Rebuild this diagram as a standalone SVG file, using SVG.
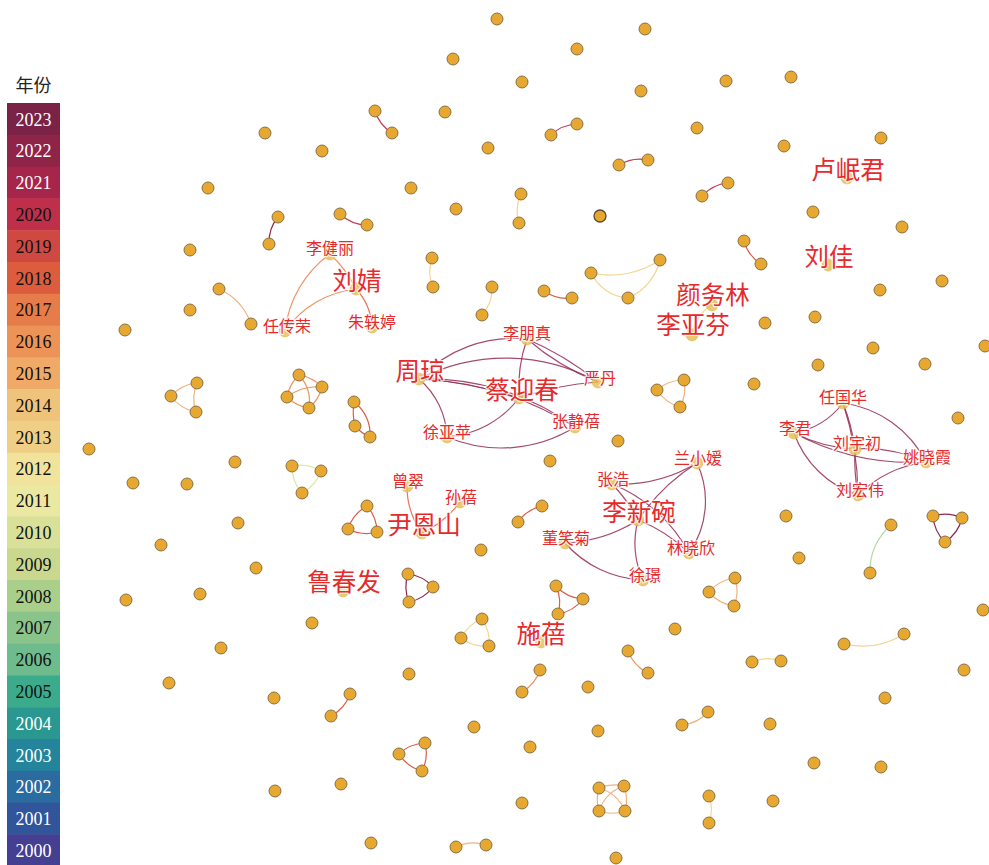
<svg xmlns="http://www.w3.org/2000/svg" width="989" height="865" viewBox="0 0 989 865">
<style>
.n{fill:#E6A830;stroke:#7d6640;stroke-width:0.9}
.ln{fill:#E8C056;fill-opacity:0.85;stroke:#d9b050;stroke-width:0.5}
.e{fill:none;stroke-width:1.2}
.c23{stroke:#8b2a50}
.c22{stroke:#952c55;stroke-opacity:0.85}
.c21{stroke:#c23a55}
.c19{stroke:#db5e4c}
.c18{stroke:#e8775c}
.c17{stroke:#ec9462}
.c16{stroke:#f2b27e}
.c14{stroke:#f3d594}
.c10{stroke:#dbe6ab}
.c08{stroke:#b4d9a2}
.lb{font-family:"Noto Sans CJK SC","Noto Sans",sans-serif;fill:#e62a2c;stroke:#fff;stroke-width:2.5;stroke-opacity:0.8;paint-order:stroke;text-anchor:middle}
.big{font-size:24.5px}
.sm{font-size:16px}
.lg{font-family:"Liberation Serif",serif;font-size:18px;text-anchor:middle}
</style>
<g id="legend">
<text x="33.5" y="92" style="font-family:'Noto Sans CJK SC',sans-serif;font-size:18px;text-anchor:middle" fill="#222">年份</text>
<rect x="7" y="103" width="53" height="32.3" fill="#7a2346"/>
<rect x="7" y="134.8" width="53" height="32.3" fill="#8f2449"/>
<rect x="7" y="166.6" width="53" height="32.3" fill="#a6254b"/>
<rect x="7" y="198.4" width="53" height="32.3" fill="#c02f4a"/>
<rect x="7" y="230.2" width="53" height="32.3" fill="#d04842"/>
<rect x="7" y="262" width="53" height="32.3" fill="#dd5c3e"/>
<rect x="7" y="293.8" width="53" height="32.3" fill="#e67c49"/>
<rect x="7" y="325.6" width="53" height="32.3" fill="#ec9457"/>
<rect x="7" y="357.4" width="53" height="32.3" fill="#eeaa66"/>
<rect x="7" y="389.2" width="53" height="32.3" fill="#eec47c"/>
<rect x="7" y="421" width="53" height="32.3" fill="#efcf86"/>
<rect x="7" y="452.8" width="53" height="32.3" fill="#f1e29c"/>
<rect x="7" y="484.6" width="53" height="32.3" fill="#ebe8a2"/>
<rect x="7" y="516.4" width="53" height="32.3" fill="#d9e098"/>
<rect x="7" y="548.2" width="53" height="32.3" fill="#c9d88e"/>
<rect x="7" y="580" width="53" height="32.3" fill="#a9cf8b"/>
<rect x="7" y="611.8" width="53" height="32.3" fill="#8bc48b"/>
<rect x="7" y="643.6" width="53" height="32.3" fill="#6ebb8d"/>
<rect x="7" y="675.4" width="53" height="32.3" fill="#3bab8c"/>
<rect x="7" y="707.2" width="53" height="32.3" fill="#2a9891"/>
<rect x="7" y="739" width="53" height="32.3" fill="#24849b"/>
<rect x="7" y="770.8" width="53" height="32.3" fill="#2a6ba0"/>
<rect x="7" y="802.6" width="53" height="32.3" fill="#31559a"/>
<rect x="7" y="834.4" width="53" height="31" fill="#443f90"/>
<text class="lg" x="33.5" y="125.5" fill="#fff">2023</text>
<text class="lg" x="33.5" y="157.3" fill="#fff">2022</text>
<text class="lg" x="33.5" y="189.1" fill="#fff">2021</text>
<text class="lg" x="33.5" y="220.9" fill="#111">2020</text>
<text class="lg" x="33.5" y="252.7" fill="#111">2019</text>
<text class="lg" x="33.5" y="284.5" fill="#111">2018</text>
<text class="lg" x="33.5" y="316.3" fill="#111">2017</text>
<text class="lg" x="33.5" y="348.1" fill="#111">2016</text>
<text class="lg" x="33.5" y="379.9" fill="#111">2015</text>
<text class="lg" x="33.5" y="411.7" fill="#111">2014</text>
<text class="lg" x="33.5" y="443.5" fill="#111">2013</text>
<text class="lg" x="33.5" y="475.3" fill="#111">2012</text>
<text class="lg" x="33.5" y="507.1" fill="#111">2011</text>
<text class="lg" x="33.5" y="538.9" fill="#111">2010</text>
<text class="lg" x="33.5" y="570.7" fill="#111">2009</text>
<text class="lg" x="33.5" y="602.5" fill="#111">2008</text>
<text class="lg" x="33.5" y="634.3" fill="#111">2007</text>
<text class="lg" x="33.5" y="666.1" fill="#111">2006</text>
<text class="lg" x="33.5" y="697.9" fill="#111">2005</text>
<text class="lg" x="33.5" y="729.7" fill="#fff">2004</text>
<text class="lg" x="33.5" y="761.5" fill="#fff">2003</text>
<text class="lg" x="33.5" y="793.3" fill="#fff">2002</text>
<text class="lg" x="33.5" y="825.1" fill="#fff">2001</text>
<text class="lg" x="33.5" y="856.9" fill="#fff">2000</text>
</g>
<g id="connectors">
<path class="e c22" d="M419,379 A130,130 0 0 1 527,339"/>
<path class="e c22" d="M419,379 A190,190 0 0 1 598,382"/>
<path class="e c22" d="M419,379 A400,400 0 0 1 519,398"/>
<path class="e c22" d="M419,379 A250,250 0 0 1 575,427"/>
<path class="e c22" d="M419,379 A320,320 0 0 1 575,427"/>
<path class="e c22" d="M419,379 A80,80 0 0 1 447,437"/>
<path class="e c22" d="M527,339 A150,150 0 0 0 519,398"/>
<path class="e c22" d="M527,339 A250,250 0 0 0 598,382"/>
<path class="e c22" d="M527,339 A300,300 0 0 1 598,382"/>
<path class="e c22" d="M519,398 A300,300 0 0 1 598,382"/>
<path class="e c22" d="M519,398 A100,100 0 0 1 447,437"/>
<path class="e c22" d="M447,437 A140,140 0 0 0 575,427"/>
<path class="e c22" d="M794,433 A80,80 0 0 0 843,403"/>
<path class="e c22" d="M843,403 A200,200 0 0 1 855,449"/>
<path class="e c22" d="M843,403 A300,300 0 0 1 858,495"/>
<path class="e c22" d="M843,403 A110,110 0 0 1 926,462"/>
<path class="e c22" d="M794,433 A150,150 0 0 0 855,449"/>
<path class="e c22" d="M794,433 A250,250 0 0 0 926,462"/>
<path class="e c22" d="M794,433 A100,100 0 0 0 858,495"/>
<path class="e c22" d="M855,449 A150,150 0 0 1 926,462"/>
<path class="e c22" d="M855,449 A200,200 0 0 0 858,495"/>
<path class="e c22" d="M926,462 A120,120 0 0 0 858,495"/>
<path class="e c22" d="M612,484 A150,150 0 0 0 697,463"/>
<path class="e c22" d="M612,484 A150,150 0 0 1 638,520"/>
<path class="e c22" d="M612,484 A150,150 0 0 1 689,553"/>
<path class="e c22" d="M697,463 A200,200 0 0 0 638,520"/>
<path class="e c22" d="M697,463 A90,90 0 0 1 689,553"/>
<path class="e c22" d="M638,520 A150,150 0 0 1 565,543"/>
<path class="e c22" d="M638,520 A90,90 0 0 0 643,580"/>
<path class="e c22" d="M638,520 A150,150 0 0 1 689,553"/>
<path class="e c22" d="M565,543 A110,110 0 0 0 643,580"/>
<path class="e c17" d="M330,254 A110,110 0 0 0 285,331"/>
<path class="e c17" d="M285,331 A100,100 0 0 1 356,289"/>
<path class="e c17" d="M330,254 A120,120 0 0 1 356,289"/>
<path class="e c18" d="M356,289 A60,60 0 0 1 372,327"/>
<path class="e c16" d="M219,289 A60,60 0 0 1 251,324"/>
<path class="e c18" d="M407,486 A80,80 0 0 0 422,533"/>
<path class="e c18" d="M460,502 A100,100 0 0 1 422,533"/>
<path class="e c21" d="M375,111 A40,40 0 0 0 392,133"/>
<path class="e c21" d="M551,135 A40,40 0 0 1 577,124"/>
<path class="e c21" d="M619,165 A40,40 0 0 1 648,160"/>
<path class="e c21" d="M702,196 A40,40 0 0 1 728,183"/>
<path class="e c21" d="M340,214 A40,40 0 0 0 367,225"/>
<path class="e c23" d="M278,217 A40,40 0 0 0 269,244"/>
<path class="e c23" d="M933,516 A40,40 0 0 1 962,518"/>
<path class="e c23" d="M962,518 A40,40 0 0 1 945,542"/>
<path class="e c23" d="M933,516 A40,40 0 0 0 945,542"/>
<path class="e c23" d="M408,574 A40,40 0 0 1 433,587"/>
<path class="e c23" d="M433,587 A40,40 0 0 1 409,602"/>
<path class="e c23" d="M408,574 A40,40 0 0 0 409,602"/>
<path class="e c19" d="M544,291 A40,40 0 0 0 572,298"/>
<path class="e c19" d="M744,241 A40,40 0 0 0 761,264"/>
<path class="e c19" d="M367,506 A40,40 0 0 0 348,529"/>
<path class="e c19" d="M367,506 A40,40 0 0 1 377,532"/>
<path class="e c19" d="M348,529 A40,40 0 0 0 377,532"/>
<path class="e c19" d="M354,402 A40,40 0 0 1 370,437"/>
<path class="e c19" d="M354,402 A60,60 0 0 0 355,426"/>
<path class="e c19" d="M355,426 A40,40 0 0 0 370,437"/>
<path class="e c19" d="M542,506 A40,40 0 0 0 518,522"/>
<path class="e c19" d="M556,586 A40,40 0 0 0 583,599"/>
<path class="e c19" d="M583,599 A40,40 0 0 1 558,614"/>
<path class="e c19" d="M556,586 A40,40 0 0 1 558,614"/>
<path class="e c19" d="M350,694 A40,40 0 0 1 331,716"/>
<path class="e c19" d="M425,743 A40,40 0 0 0 399,754"/>
<path class="e c19" d="M399,754 A40,40 0 0 0 422,771"/>
<path class="e c19" d="M425,743 A40,40 0 0 1 422,771"/>
<path class="e c17" d="M299,375 A40,40 0 0 1 322,387"/>
<path class="e c17" d="M299,375 A40,40 0 0 0 287,397"/>
<path class="e c17" d="M299,375 A40,40 0 0 1 309,408"/>
<path class="e c17" d="M322,387 A50,50 0 0 0 287,397"/>
<path class="e c17" d="M322,387 A40,40 0 0 1 309,408"/>
<path class="e c17" d="M287,397 A40,40 0 0 0 309,408"/>
<path class="e c17" d="M522,692 A40,40 0 0 0 540,670"/>
<path class="e c17" d="M628,651 A40,40 0 0 0 648,673"/>
<path class="e c16" d="M197,383 A40,40 0 0 0 171,396"/>
<path class="e c16" d="M171,396 A40,40 0 0 0 196,412"/>
<path class="e c16" d="M197,383 A40,40 0 0 0 196,412"/>
<path class="e c16" d="M657,390 A40,40 0 0 1 684,380"/>
<path class="e c16" d="M684,380 A40,40 0 0 1 680,407"/>
<path class="e c16" d="M657,390 A40,40 0 0 0 680,407"/>
<path class="e c16" d="M735,578 A40,40 0 0 0 709,592"/>
<path class="e c16" d="M709,592 A40,40 0 0 0 734,606"/>
<path class="e c16" d="M735,578 A40,40 0 0 1 734,606"/>
<path class="e c16" d="M599,788 A40,40 0 0 1 624,786"/>
<path class="e c16" d="M599,788 A40,40 0 0 0 599,811"/>
<path class="e c16" d="M599,788 A40,40 0 0 1 625,811"/>
<path class="e c16" d="M624,786 A40,40 0 0 0 599,811"/>
<path class="e c16" d="M624,786 A40,40 0 0 1 625,811"/>
<path class="e c16" d="M599,811 A40,40 0 0 0 625,811"/>
<path class="e c16" d="M708,712 A40,40 0 0 1 682,725"/>
<path class="e c16" d="M456,847 A40,40 0 0 1 486,845"/>
<path class="e c14" d="M591,273 A90,90 0 0 0 660,260"/>
<path class="e c14" d="M591,273 A45,45 0 0 0 628,298"/>
<path class="e c14" d="M628,298 A55,55 0 0 0 660,260"/>
<path class="e c14" d="M482,619 A40,40 0 0 0 461,638"/>
<path class="e c14" d="M461,638 A40,40 0 0 0 489,646"/>
<path class="e c14" d="M482,619 A40,40 0 0 1 489,646"/>
<path class="e c14" d="M844,644 A80,80 0 0 0 904,634"/>
<path class="e c14" d="M752,662 A40,40 0 0 1 781,661"/>
<path class="e c14" d="M521,194 A40,40 0 0 0 519,223"/>
<path class="e c14" d="M492,287 A40,40 0 0 1 482,315"/>
<path class="e c14" d="M432,258 A40,40 0 0 0 433,287"/>
<path class="e c14" d="M709,796 A40,40 0 0 1 709,823"/>
<path class="e c14" d="M692,335 A40,40 0 0 1 712,305"/>
<path class="e c10" d="M292,466 A40,40 0 0 1 321,471"/>
<path class="e c10" d="M321,471 A40,40 0 0 1 302,493"/>
<path class="e c10" d="M292,466 A40,40 0 0 0 302,493"/>
<path class="e c08" d="M891,525 A60,60 0 0 0 870,573"/>
</g>
<g id="nodes">
<g id="n1"><circle class="n" cx="497" cy="19" r="6"/></g>
<g id="n2"><circle class="n" cx="645" cy="29" r="6"/></g>
<g id="n3"><circle class="n" cx="577" cy="49" r="6"/></g>
<g id="n4"><circle class="n" cx="453" cy="59" r="6"/></g>
<g id="n5"><circle class="n" cx="522" cy="82" r="6"/></g>
<g id="n6"><circle class="n" cx="641" cy="91" r="6"/></g>
<g id="n7"><circle class="n" cx="726" cy="81" r="6"/></g>
<g id="n8"><circle class="n" cx="791" cy="77" r="6"/></g>
<g id="n9"><circle class="n" cx="375" cy="111" r="6"/></g>
<g id="n10"><circle class="n" cx="445" cy="112" r="6"/></g>
<g id="n11"><circle class="n" cx="392" cy="133" r="6"/></g>
<g id="n12"><circle class="n" cx="551" cy="135" r="6"/></g>
<g id="n13"><circle class="n" cx="577" cy="124" r="6"/></g>
<g id="n14"><circle class="n" cx="265" cy="133" r="6"/></g>
<g id="n15"><circle class="n" cx="322" cy="151" r="6"/></g>
<g id="n16"><circle class="n" cx="488" cy="148" r="6"/></g>
<g id="n17"><circle class="n" cx="697" cy="128" r="6"/></g>
<g id="n18"><circle class="n" cx="784" cy="146" r="6"/></g>
<g id="n19"><circle class="n" cx="881" cy="138" r="6"/></g>
<g id="n20"><circle class="n" cx="619" cy="165" r="6"/></g>
<g id="n21"><circle class="n" cx="648" cy="160" r="6"/></g>
<g id="n22"><circle class="n" cx="208" cy="188" r="6"/></g>
<g id="n23"><circle class="n" cx="411" cy="188" r="6"/></g>
<g id="n24"><circle class="n" cx="521" cy="194" r="6"/></g>
<g id="n25"><circle class="n" cx="456" cy="209" r="6"/></g>
<g id="n26"><circle class="n" cx="519" cy="223" r="6"/></g>
<g id="n27"><circle class="n" cx="600" cy="216" r="6" style="stroke:#5a4a30;stroke-width:1.3"/></g>
<g id="n28"><circle class="n" cx="702" cy="196" r="6"/></g>
<g id="n29"><circle class="n" cx="728" cy="183" r="6"/></g>
<g id="n30"><circle class="n" cx="813" cy="212" r="6"/></g>
<g id="n31"><circle class="n" cx="902" cy="227" r="6"/></g>
<g id="n32"><circle class="n" cx="278" cy="217" r="6"/></g>
<g id="n33"><circle class="n" cx="269" cy="244" r="6"/></g>
<g id="n34"><circle class="n" cx="340" cy="214" r="6"/></g>
<g id="n35"><circle class="n" cx="367" cy="225" r="6"/></g>
<g id="n36"><circle class="n" cx="190" cy="250" r="6"/></g>
<g id="n37"><circle class="n" cx="432" cy="258" r="6"/></g>
<g id="n38"><circle class="n" cx="433" cy="287" r="6"/></g>
<g id="n39"><circle class="n" cx="492" cy="287" r="6"/></g>
<g id="n40"><circle class="n" cx="482" cy="315" r="6"/></g>
<g id="n41"><circle class="n" cx="544" cy="291" r="6"/></g>
<g id="n42"><circle class="n" cx="572" cy="298" r="6"/></g>
<g id="n43"><circle class="n" cx="591" cy="273" r="6"/></g>
<g id="n44"><circle class="n" cx="660" cy="260" r="6"/></g>
<g id="n45"><circle class="n" cx="628" cy="298" r="6"/></g>
<g id="n46"><circle class="n" cx="744" cy="241" r="6"/></g>
<g id="n47"><circle class="n" cx="761" cy="264" r="6"/></g>
<g id="n48"><circle class="n" cx="942" cy="281" r="6"/></g>
<g id="n49"><circle class="n" cx="219" cy="289" r="6"/></g>
<g id="n50"><circle class="n" cx="190" cy="310" r="6"/></g>
<g id="n51"><circle class="n" cx="251" cy="324" r="6"/></g>
<g id="n52"><circle class="n" cx="125" cy="330" r="6"/></g>
<g id="n53"><circle class="n" cx="765" cy="323" r="6"/></g>
<g id="n54"><circle class="n" cx="815" cy="317" r="6"/></g>
<g id="n55"><circle class="n" cx="880" cy="290" r="6"/></g>
<g id="n56"><circle class="n" cx="985" cy="346" r="6"/></g>
<g id="n57"><circle class="n" cx="873" cy="348" r="6"/></g>
<g id="n58"><circle class="n" cx="925" cy="364" r="6"/></g>
<g id="n59"><circle class="n" cx="818" cy="365" r="6"/></g>
<g id="n60"><circle class="n" cx="754" cy="384" r="6"/></g>
<g id="n61"><circle class="n" cx="197" cy="383" r="6"/></g>
<g id="n62"><circle class="n" cx="171" cy="396" r="6"/></g>
<g id="n63"><circle class="n" cx="196" cy="412" r="6"/></g>
<g id="n64"><circle class="n" cx="299" cy="375" r="6"/></g>
<g id="n65"><circle class="n" cx="322" cy="387" r="6"/></g>
<g id="n66"><circle class="n" cx="287" cy="397" r="6"/></g>
<g id="n67"><circle class="n" cx="309" cy="408" r="6"/></g>
<g id="n68"><circle class="n" cx="354" cy="402" r="6"/></g>
<g id="n69"><circle class="n" cx="355" cy="426" r="6"/></g>
<g id="n70"><circle class="n" cx="370" cy="437" r="6"/></g>
<g id="n71"><circle class="n" cx="657" cy="390" r="6"/></g>
<g id="n72"><circle class="n" cx="684" cy="380" r="6"/></g>
<g id="n73"><circle class="n" cx="680" cy="407" r="6"/></g>
<g id="n74"><circle class="n" cx="618" cy="441" r="6"/></g>
<g id="n75"><circle class="n" cx="958" cy="418" r="6"/></g>
<g id="n76"><circle class="n" cx="89" cy="449" r="6"/></g>
<g id="n77"><circle class="n" cx="235" cy="462" r="6"/></g>
<g id="n78"><circle class="n" cx="292" cy="466" r="6"/></g>
<g id="n79"><circle class="n" cx="321" cy="471" r="6"/></g>
<g id="n80"><circle class="n" cx="302" cy="493" r="6"/></g>
<g id="n81"><circle class="n" cx="550" cy="461" r="6"/></g>
<g id="n82"><circle class="n" cx="133" cy="483" r="6"/></g>
<g id="n83"><circle class="n" cx="187" cy="484" r="6"/></g>
<g id="n84"><circle class="n" cx="367" cy="506" r="6"/></g>
<g id="n85"><circle class="n" cx="348" cy="529" r="6"/></g>
<g id="n86"><circle class="n" cx="377" cy="532" r="6"/></g>
<g id="n87"><circle class="n" cx="542" cy="506" r="6"/></g>
<g id="n88"><circle class="n" cx="518" cy="522" r="6"/></g>
<g id="n89"><circle class="n" cx="238" cy="523" r="6"/></g>
<g id="n90"><circle class="n" cx="161" cy="545" r="6"/></g>
<g id="n91"><circle class="n" cx="481" cy="550" r="6"/></g>
<g id="n92"><circle class="n" cx="786" cy="516" r="6"/></g>
<g id="n93"><circle class="n" cx="891" cy="525" r="6"/></g>
<g id="n94"><circle class="n" cx="933" cy="516" r="6"/></g>
<g id="n95"><circle class="n" cx="962" cy="518" r="6"/></g>
<g id="n96"><circle class="n" cx="945" cy="542" r="6"/></g>
<g id="n97"><circle class="n" cx="870" cy="573" r="6"/></g>
<g id="n98"><circle class="n" cx="799" cy="558" r="6"/></g>
<g id="n99"><circle class="n" cx="256" cy="568" r="6"/></g>
<g id="n100"><circle class="n" cx="408" cy="574" r="6"/></g>
<g id="n101"><circle class="n" cx="433" cy="587" r="6"/></g>
<g id="n102"><circle class="n" cx="409" cy="602" r="6"/></g>
<g id="n103"><circle class="n" cx="556" cy="586" r="6"/></g>
<g id="n104"><circle class="n" cx="583" cy="599" r="6"/></g>
<g id="n105"><circle class="n" cx="558" cy="614" r="6"/></g>
<g id="n106"><circle class="n" cx="735" cy="578" r="6"/></g>
<g id="n107"><circle class="n" cx="709" cy="592" r="6"/></g>
<g id="n108"><circle class="n" cx="734" cy="606" r="6"/></g>
<g id="n109"><circle class="n" cx="126" cy="600" r="6"/></g>
<g id="n110"><circle class="n" cx="200" cy="594" r="6"/></g>
<g id="n111"><circle class="n" cx="983" cy="610" r="6"/></g>
<g id="n112"><circle class="n" cx="312" cy="623" r="6"/></g>
<g id="n113"><circle class="n" cx="482" cy="619" r="6"/></g>
<g id="n114"><circle class="n" cx="461" cy="638" r="6"/></g>
<g id="n115"><circle class="n" cx="489" cy="646" r="6"/></g>
<g id="n116"><circle class="n" cx="675" cy="629" r="6"/></g>
<g id="n117"><circle class="n" cx="844" cy="644" r="6"/></g>
<g id="n118"><circle class="n" cx="904" cy="634" r="6"/></g>
<g id="n119"><circle class="n" cx="221" cy="648" r="6"/></g>
<g id="n120"><circle class="n" cx="628" cy="651" r="6"/></g>
<g id="n121"><circle class="n" cx="648" cy="673" r="6"/></g>
<g id="n122"><circle class="n" cx="752" cy="662" r="6"/></g>
<g id="n123"><circle class="n" cx="781" cy="661" r="6"/></g>
<g id="n124"><circle class="n" cx="964" cy="670" r="6"/></g>
<g id="n125"><circle class="n" cx="169" cy="683" r="6"/></g>
<g id="n126"><circle class="n" cx="409" cy="674" r="6"/></g>
<g id="n127"><circle class="n" cx="350" cy="694" r="6"/></g>
<g id="n128"><circle class="n" cx="331" cy="716" r="6"/></g>
<g id="n129"><circle class="n" cx="522" cy="692" r="6"/></g>
<g id="n130"><circle class="n" cx="540" cy="670" r="6"/></g>
<g id="n131"><circle class="n" cx="588" cy="687" r="6"/></g>
<g id="n132"><circle class="n" cx="274" cy="698" r="6"/></g>
<g id="n133"><circle class="n" cx="885" cy="698" r="6"/></g>
<g id="n134"><circle class="n" cx="474" cy="727" r="6"/></g>
<g id="n135"><circle class="n" cx="708" cy="712" r="6"/></g>
<g id="n136"><circle class="n" cx="682" cy="725" r="6"/></g>
<g id="n137"><circle class="n" cx="770" cy="724" r="6"/></g>
<g id="n138"><circle class="n" cx="598" cy="731" r="6"/></g>
<g id="n139"><circle class="n" cx="530" cy="747" r="6"/></g>
<g id="n140"><circle class="n" cx="425" cy="743" r="6"/></g>
<g id="n141"><circle class="n" cx="399" cy="754" r="6"/></g>
<g id="n142"><circle class="n" cx="422" cy="771" r="6"/></g>
<g id="n143"><circle class="n" cx="814" cy="763" r="6"/></g>
<g id="n144"><circle class="n" cx="881" cy="767" r="6"/></g>
<g id="n145"><circle class="n" cx="341" cy="784" r="6"/></g>
<g id="n146"><circle class="n" cx="275" cy="791" r="6"/></g>
<g id="n147"><circle class="n" cx="599" cy="788" r="6"/></g>
<g id="n148"><circle class="n" cx="624" cy="786" r="6"/></g>
<g id="n149"><circle class="n" cx="599" cy="811" r="6"/></g>
<g id="n150"><circle class="n" cx="625" cy="811" r="6"/></g>
<g id="n151"><circle class="n" cx="522" cy="803" r="6"/></g>
<g id="n152"><circle class="n" cx="709" cy="796" r="6"/></g>
<g id="n153"><circle class="n" cx="773" cy="801" r="6"/></g>
<g id="n154"><circle class="n" cx="709" cy="823" r="6"/></g>
<g id="n155"><circle class="n" cx="371" cy="843" r="6"/></g>
<g id="n156"><circle class="n" cx="456" cy="847" r="6"/></g>
<g id="n157"><circle class="n" cx="486" cy="845" r="6"/></g>
<g id="n158"><circle class="n" cx="616" cy="858" r="6"/></g>
<g id="lushujun"><circle class="ln" cx="847" cy="178" r="6"/><text class="lb big" x="848" y="179">卢岷君</text></g>
<g id="liujia"><circle class="ln" cx="828" cy="265" r="6"/><text class="lb big" x="829" y="266">刘佳</text></g>
<g id="yanwulin"><circle class="ln" cx="712" cy="305" r="6"/><text class="lb big" x="713" y="304">颜务林</text></g>
<g id="liyafen"><circle class="ln" cx="692" cy="335" r="6"/><text class="lb big" x="693" y="334">李亚芬</text></g>
<g id="liujing"><circle class="ln" cx="356" cy="289" r="6"/><text class="lb big" x="357" y="290">刘婧</text></g>
<g id="lijianli"><circle class="ln" cx="330" cy="254" r="6"/><text class="lb sm" x="330" y="254">李健丽</text></g>
<g id="renchuanrong"><circle class="ln" cx="285" cy="331" r="6"/><text class="lb sm" x="287" y="332">任传荣</text></g>
<g id="zhuyiting"><circle class="ln" cx="372" cy="327" r="6"/><text class="lb sm" x="372" y="328">朱轶婷</text></g>
<g id="zhouqiong"><circle class="ln" cx="419" cy="379" r="6"/><text class="lb big" x="420" y="380">周琼</text></g>
<g id="caiyingchun"><circle class="ln" cx="519" cy="398" r="6"/><text class="lb big" x="522" y="399">蔡迎春</text></g>
<g id="lipengzhen"><circle class="ln" cx="527" cy="339" r="6"/><text class="lb sm" x="527" y="339">李朋真</text></g>
<g id="yandan"><circle class="ln" cx="598" cy="382" r="6"/><text class="lb sm" x="600" y="384">严丹</text></g>
<g id="zhangjingbei"><circle class="ln" cx="575" cy="427" r="6"/><text class="lb sm" x="576" y="427">张静蓓</text></g>
<g id="xuyaping"><circle class="ln" cx="447" cy="437" r="6"/><text class="lb sm" x="447" y="438">徐亚苹</text></g>
<g id="zengcui"><circle class="ln" cx="407" cy="486" r="6"/><text class="lb sm" x="408" y="487">曾翠</text></g>
<g id="sunbei"><circle class="ln" cx="460" cy="502" r="6"/><text class="lb sm" x="461" y="503">孙蓓</text></g>
<g id="yinenshan"><circle class="ln" cx="422" cy="533" r="6"/><text class="lb big" x="424" y="534">尹恩山</text></g>
<g id="luchunfa"><circle class="ln" cx="343" cy="591" r="6"/><text class="lb big" x="344" y="591">鲁春发</text></g>
<g id="shibei"><circle class="ln" cx="541" cy="642" r="6"/><text class="lb big" x="541" y="643">施蓓</text></g>
<g id="lixinwan"><circle class="ln" cx="638" cy="520" r="6"/><text class="lb big" x="639" y="521">李新碗</text></g>
<g id="zhanghao"><circle class="ln" cx="612" cy="484" r="6"/><text class="lb sm" x="613" y="485">张浩</text></g>
<g id="lanxiaoai"><circle class="ln" cx="697" cy="463" r="6"/><text class="lb sm" x="698" y="464">兰小嫒</text></g>
<g id="dongxiaoju"><circle class="ln" cx="565" cy="543" r="6"/><text class="lb sm" x="566" y="544">董笑菊</text></g>
<g id="linxiaoxin"><circle class="ln" cx="689" cy="553" r="6"/><text class="lb sm" x="691" y="554">林晓欣</text></g>
<g id="xujing"><circle class="ln" cx="643" cy="580" r="6"/><text class="lb sm" x="645" y="581">徐璟</text></g>
<g id="renguohua"><circle class="ln" cx="843" cy="403" r="6"/><text class="lb sm" x="843" y="403">任国华</text></g>
<g id="lijun"><circle class="ln" cx="794" cy="433" r="6"/><text class="lb sm" x="795" y="434">李君</text></g>
<g id="liuyuchu"><circle class="ln" cx="855" cy="449" r="6"/><text class="lb sm" x="857" y="449">刘宇初</text></g>
<g id="yaoxiaoxia"><circle class="ln" cx="926" cy="462" r="6"/><text class="lb sm" x="927" y="463">姚晓霞</text></g>
<g id="liuhongwei"><circle class="ln" cx="858" cy="495" r="6"/><text class="lb sm" x="860" y="496">刘宏伟</text></g>
</g>
</svg>
